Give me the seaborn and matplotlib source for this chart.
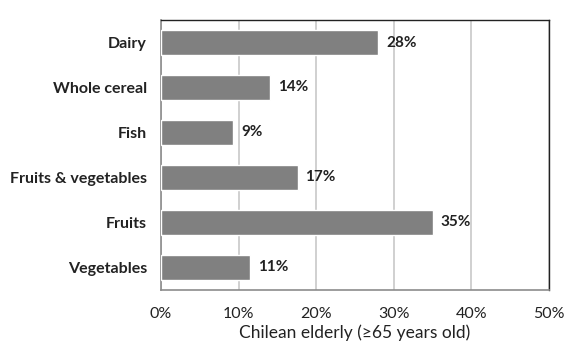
import matplotlib
matplotlib.use("Agg")
import matplotlib.pyplot as plt
import matplotlib.ticker as mticker
import pandas as pd
import seaborn as sns

# ── Data ──────────────────────────────────────────────────────────────────────
FOODS = ["Dairy", "Whole cereal", "Fish", "Fruits & vegetables", "Fruits", "Vegetables"]
SHARE = [28.0, 14.1, 9.3, 17.6, 35.0, 11.5]
LABELS = ["28%", "14%", "9%", "17%", "35%", "11%"]
X_TICKS = [0, 10, 20, 30, 40, 50]

df = pd.DataFrame({"food": FOODS, "share": SHARE})

sns.set_theme(style="white")
plt.rcParams["font.family"] = ["Lato", "DejaVu Sans"]

fig = plt.figure(figsize=(5.79, 3.51), dpi=100)
ax = fig.add_axes([0.278, 0.174, 0.670, 0.769])

sns.barplot(data=df, y="food", x="share", orient="h", color="#808080",
            saturation=1, width=0.57, ax=ax, zorder=3)

ax.set_xlim(0, 50)
ax.set_xticks(X_TICKS)
ax.xaxis.set_major_formatter(mticker.FuncFormatter(lambda v, _: f"{v:.0f}%"))
ax.grid(axis="x", color="#c8c8c8", linewidth=1.2, zorder=0)
ax.set_axisbelow(True)

for i, (v, lab) in enumerate(zip(SHARE, LABELS)):
    ax.text(v + 1.0, i, lab, va="center", ha="left", fontsize=11,
            fontweight="bold", color="#222222")

ax.set_ylabel("")
ax.set_xlabel("Chilean elderly (\u226565 years old)", fontsize=12.5,
              color="#222222", labelpad=3)
ax.tick_params(axis="y", length=0, pad=10, labelsize=11.5)
ax.tick_params(axis="x", length=0, pad=12, labelsize=11.5, colors="#222222")
for t in ax.get_yticklabels():
    t.set_fontweight("bold")
    t.set_color("#222222")

for side in ["left", "bottom"]:
    ax.spines[side].set_color("#8c8c8c")
    ax.spines[side].set_linewidth(1.2)
for side in ["top", "right"]:
    ax.spines[side].set_color("#222222")
    ax.spines[side].set_linewidth(1.0)

fig.savefig("out.png", dpi=100)
